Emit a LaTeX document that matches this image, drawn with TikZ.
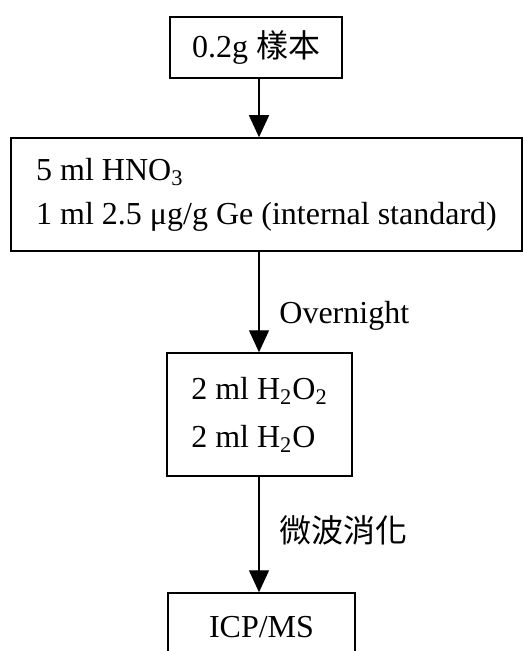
\documentclass[tikz,border=0pt]{standalone}
\usepackage{fontspec}
\setmainfont{Liberation Serif}
\newfontfamily\cjk{Noto Sans CJK TC}
\usetikzlibrary{arrows.meta}

\begin{document}
\begin{tikzpicture}[x=0.5pt, y=-0.5pt,
    box/.style={draw, line width=0.75pt, inner xsep=10pt, inner ysep=0pt,
      font=\fontsize{16}{22}\selectfont},
    flow/.style={draw, line width=0.7pt, -{Triangle[length=11pt, width=10pt]}},
    lbl/.style={anchor=west, inner sep=0pt, font=\fontsize{16}{22}\selectfont}]
  \useasboundingbox (0,0) rectangle (523,651);
  \clip (0,0) rectangle (523,651);
  \coordinate (xaxis) at (259,0);
  \node[box, minimum width=86pt, minimum height=30.5pt] (sample) at (256,47.5)
    {0.2g {\cjk 樣本}};
  \node[box, align=left, minimum width=255.5pt, minimum height=56.5pt] (acid) at (266.5,194.5)
    {5 ml HNO\textsubscript{3}\\1 ml 2.5 μg/g Ge (internal standard)};
  \node[box, align=left, minimum width=92.5pt, minimum height=61.5pt,
    font=\fontsize{16}{24}\selectfont] (perox) at (259.5,414.5)
    {2 ml H\textsubscript{2}O\textsubscript{2}\\2 ml H\textsubscript{2}O};
  \node[box, minimum width=93.5pt, minimum height=34pt] (icpms) at (261.5,627) {ICP/MS};
  \draw[flow] (sample.south -| xaxis) -- (acid.north -| xaxis);
  \draw[flow] (acid.south -| xaxis) -- (perox.north -| xaxis);
  \draw[flow] (perox.south -| xaxis) -- (icpms.north -| xaxis);
  \node[lbl] (night) at (279,316) {Overnight};
  \node[lbl, font=\fontsize{16}{22}\selectfont\cjk] (micro) at (279,530) {微波消化};
\end{tikzpicture}
\end{document}
